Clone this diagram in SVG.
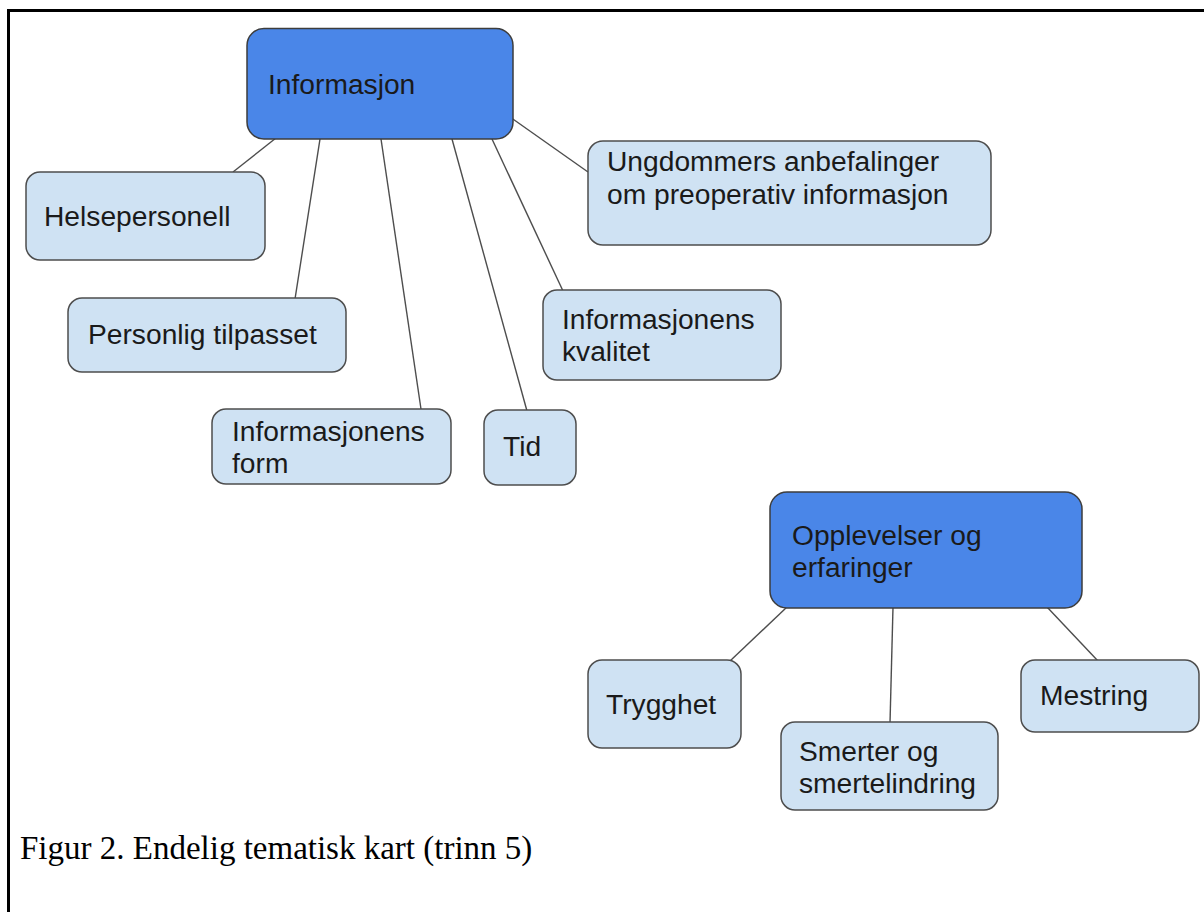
<svg xmlns="http://www.w3.org/2000/svg" width="1204" height="912" viewBox="0 0 1204 912">
<style>
.main rect{fill:#4a86e8;stroke:#3d3d3d;stroke-width:1.5}
.sub rect{fill:#cfe2f3;stroke:#4d4d4d;stroke-width:1.5}
.lbl{font-family:"Liberation Sans",Arial,sans-serif;font-size:28.2px;fill:#1a1a1a}
.con line{stroke:#4d4d4d;stroke-width:1.4}
.cap{font-family:"Liberation Serif","Times New Roman",serif;font-size:33px;fill:#000}
</style>
<rect width="1204" height="912" fill="#fff"/>
<path d="M8.5 912 V10.5 H1204" fill="none" stroke="#000" stroke-width="3"/>
<g id="connectors" class="con">
<line x1="276" y1="138" x2="233" y2="172"/>
<line x1="320" y1="139" x2="295" y2="299"/>
<line x1="381" y1="139" x2="421" y2="409"/>
<line x1="452" y1="139" x2="527" y2="411"/>
<line x1="492" y1="139" x2="563" y2="291"/>
<line x1="510" y1="117" x2="588" y2="172"/>
<line x1="787" y1="607" x2="730" y2="661"/>
<line x1="893" y1="607" x2="890" y2="723"/>
<line x1="1047" y1="607" x2="1098" y2="661"/>
</g>
<g id="informasjon" class="main">
<rect x="247" y="28.5" width="266" height="110.5" rx="17"/>
<text class="lbl" x="268" y="94">Informasjon</text>
</g>
<g id="helsepersonell" class="sub">
<rect x="26" y="172" width="239" height="88" rx="14"/>
<text class="lbl" x="44" y="226">Helsepersonell</text>
</g>
<g id="personlig" class="sub">
<rect x="68" y="298" width="278" height="74" rx="14"/>
<text class="lbl" x="88" y="344">Personlig tilpasset</text>
</g>
<g id="form" class="sub">
<rect x="212" y="409" width="239" height="75" rx="14"/>
<text class="lbl" x="232" y="441">Informasjonens</text>
<text class="lbl" x="232" y="473">form</text>
</g>
<g id="tid" class="sub">
<rect x="484" y="410" width="92" height="75" rx="14"/>
<text class="lbl" x="503" y="456">Tid</text>
</g>
<g id="kvalitet" class="sub">
<rect x="543" y="290" width="238" height="90" rx="14"/>
<text class="lbl" x="562" y="329">Informasjonens</text>
<text class="lbl" x="562" y="361">kvalitet</text>
</g>
<g id="ungdommers" class="sub">
<rect x="588" y="141" width="403" height="104" rx="15"/>
<text class="lbl" x="607" y="171">Ungdommers anbefalinger</text>
<text class="lbl" x="607" y="204">om preoperativ informasjon</text>
</g>
<g id="opplevelser" class="main">
<rect x="770" y="492" width="312" height="116" rx="17"/>
<text class="lbl" x="792" y="545">Opplevelser og</text>
<text class="lbl" x="792" y="577">erfaringer</text>
</g>
<g id="trygghet" class="sub">
<rect x="588" y="660" width="153" height="88" rx="14"/>
<text class="lbl" x="606" y="714">Trygghet</text>
</g>
<g id="smerter" class="sub">
<rect x="781" y="722" width="217" height="88" rx="14"/>
<text class="lbl" x="799" y="761">Smerter og</text>
<text class="lbl" x="799" y="793">smertelindring</text>
</g>
<g id="mestring" class="sub">
<rect x="1021" y="660" width="178" height="72" rx="14"/>
<text class="lbl" x="1040" y="705">Mestring</text>
</g>
<text class="cap" x="20" y="859">Figur 2. Endelig tematisk kart (trinn 5)</text>
</svg>
